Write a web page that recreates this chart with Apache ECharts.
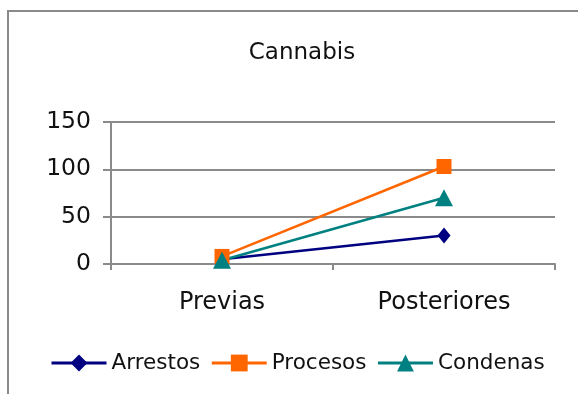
<!DOCTYPE html>
<html>
<head>
<meta charset="utf-8">
<script src="https://cdn.jsdelivr.net/npm/echarts@6/dist/echarts.min.js"></script>
<style>
html,body{margin:0;padding:0;background:#fff;}
#chart{width:578px;height:394px;}
</style>
</head>
<body>
<div id="chart"></div>
<script>
const titleText = 'Cannabis';
const categories = ['Previas', 'Posteriores'];
const seriesNames = ['Arrestos', 'Procesos', 'Condenas'];
const arrestos = [5, 30];
const procesos = [8, 103];
const condenas = [4, 70];
const yTicks = [0, 50, 100, 150];

const FONT = 'DejaVu Sans';
const chart = echarts.init(document.getElementById('chart'), null, {renderer: 'canvas'});
chart.setOption({
  animation: false,
  backgroundColor: '#fff',
  graphic: [{
    type: 'rect',
    shape: {x: 8, y: 11, width: 620, height: 420},
    style: {fill: 'none', stroke: '#8a8a8a', lineWidth: 2},
    silent: true
  }],
  title: {
    text: titleText,
    left: 297,
    top: 37,
    textAlign: 'center',
    textStyle: {fontFamily: FONT, fontSize: 23, fontWeight: 'normal', color: '#111'}
  },
  legend: {
    data: seriesNames,
    left: 50,
    top: 352,
    padding: 0,
    itemWidth: 55,
    itemHeight: 21,
    itemGap: 10,
    lineStyle: {width: 3},
    textStyle: {fontFamily: FONT, fontSize: 21.5, color: '#111'}
  },
  grid: {left: 111, right: 23, top: 122, bottom: 130, containLabel: false},
  xAxis: {
    type: 'category',
    data: categories,
    boundaryGap: true,
    axisLine: {lineStyle: {color: '#8a8a8a', width: 2}},
    axisTick: {show: true, length: 6, lineStyle: {color: '#8a8a8a', width: 2}},
    axisLabel: {fontFamily: FONT, fontSize: 24, color: '#111', margin: 27}
  },
  yAxis: {
    type: 'value',
    min: yTicks[0],
    max: yTicks[yTicks.length - 1],
    interval: yTicks[1] - yTicks[0],
    axisLine: {show: true, lineStyle: {color: '#8a8a8a', width: 2}},
    axisTick: {show: true, length: 8, lineStyle: {color: '#8a8a8a', width: 2}},
    axisLabel: {fontFamily: FONT, fontSize: 23.5, color: '#111', margin: 20},
    splitLine: {show: true, lineStyle: {color: '#8a8a8a', width: 2}}
  },
  series: [
    {
      name: seriesNames[0], type: 'line', data: arrestos,
      symbol: 'diamond', symbolSize: [13, 16],
      itemStyle: {color: '#000080'}, lineStyle: {color: '#000080', width: 2.5}
    },
    {
      name: seriesNames[1], type: 'line', data: procesos,
      symbol: 'rect', symbolSize: 15,
      itemStyle: {color: '#FF6600'}, lineStyle: {color: '#FF6600', width: 2.5}
    },
    {
      name: seriesNames[2], type: 'line', data: condenas,
      symbol: 'triangle', symbolSize: [18, 17],
      itemStyle: {color: '#008080'}, lineStyle: {color: '#008080', width: 2.5}
    }
  ]
});
</script>
</body>
</html>
